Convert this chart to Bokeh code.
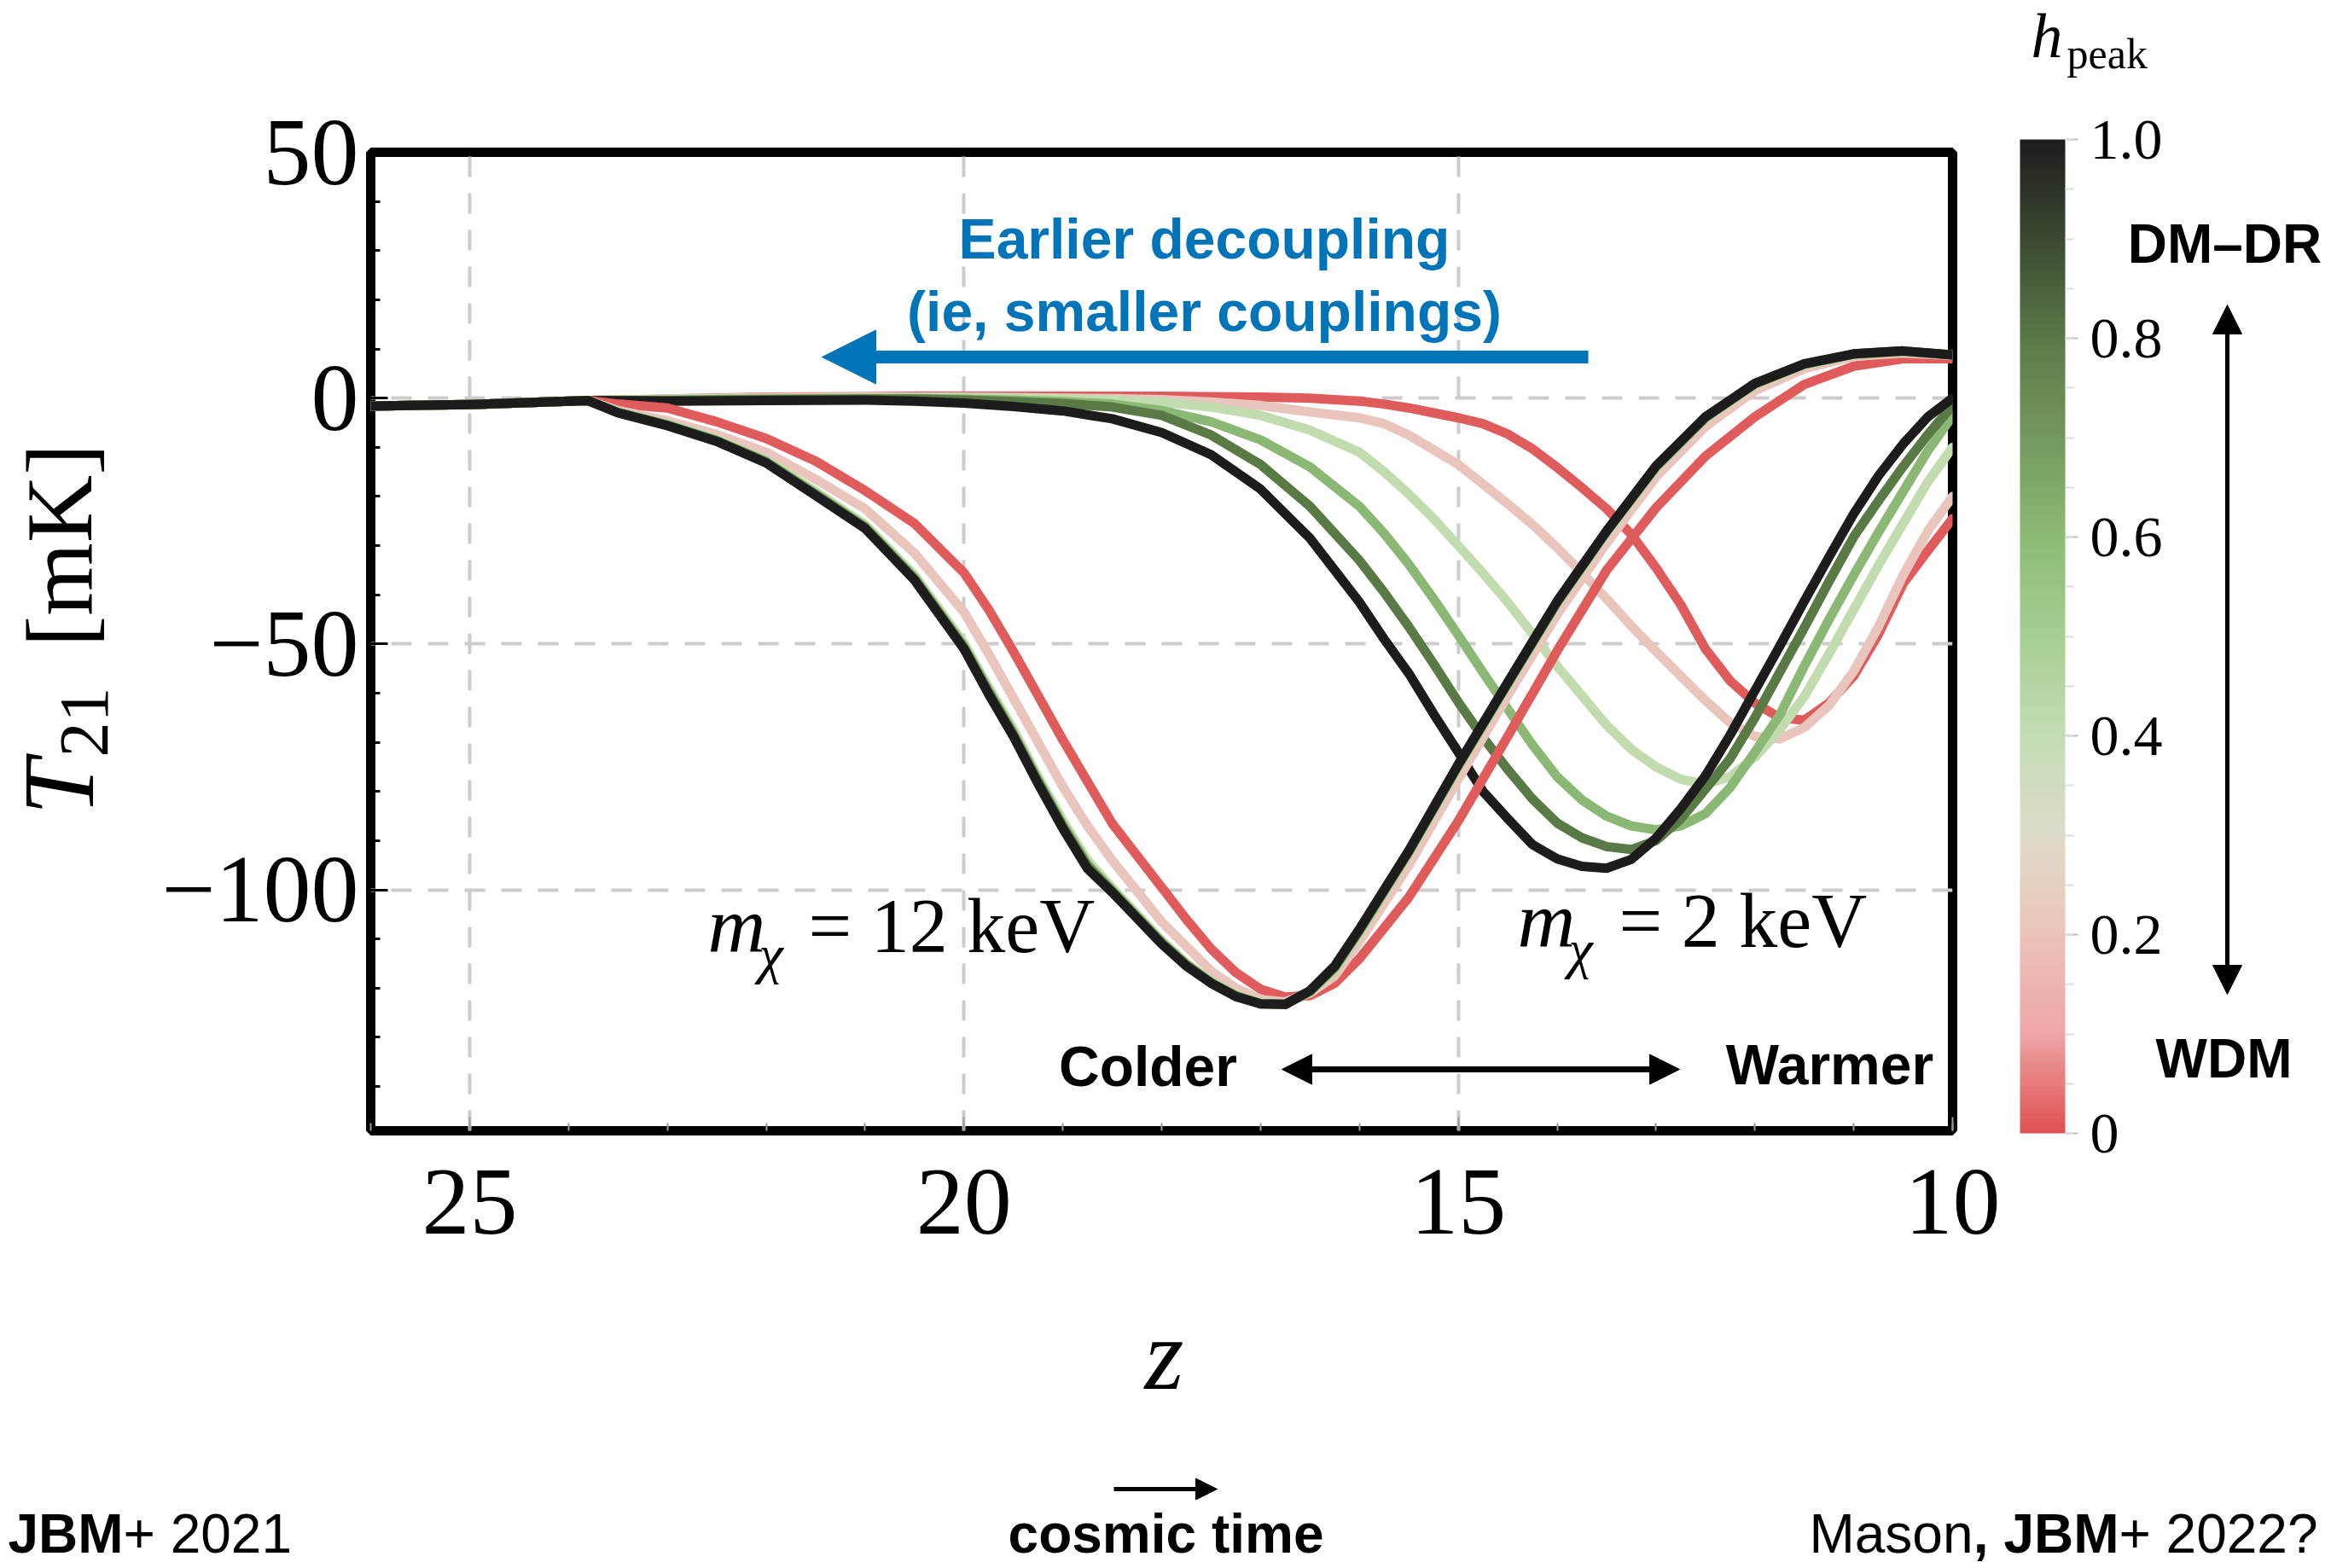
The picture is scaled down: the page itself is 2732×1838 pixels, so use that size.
import numpy as np
from bokeh.plotting import figure
from bokeh.layouts import row, column
from bokeh.models import (Range1d, FixedTicker, Label, Arrow, NormalHead, ColorBar,
                          LinearColorMapper, CustomJSTickFormatter)
from bokeh.embed import file_html
from bokeh.resources import INLINE

# ---------------- data ----------------
z_12 = [26, 25, 23.8, 23.5, 23, 22.5, 22, 21.5, 21, 20.5, 20, 19.75, 19.5, 19.25, 19, 18.75, 18.5,
        18, 17.75, 17.5, 17.25, 17, 16.75, 16.5, 16.25, 16, 15.5, 15, 14.5, 14, 13.5, 13, 12.5, 12,
        11.5, 11, 10.5, 10]
T12_h00 = [-1.6, -1.3, -0.5, -1.2, -2.0, -4.8, -8.2, -12.8, -18.8, -25.5, -35.5, -43.0, -51.5, -60.5,
           -69.5, -78.0, -86.5, -99.5, -106.0, -112.0, -116.8, -120.2, -121.8, -121.5, -119.0, -114.0,
           -101.5, -86.0, -68.8, -51.4, -35.0, -22.3, -11.8, -3.8, 2.8, 6.5, 8.0, 8.0]
T12_h02 = [-1.6, -1.3, -0.5, -2.5, -4.6, -7.4, -11.0, -16.5, -22.5, -31.5, -43.5, -52.0, -61.0, -70.0,
           -79.0, -87.0, -94.0, -106.5, -111.5, -116.5, -120.0, -122.3, -122.8, -121.0, -117.5, -110.5,
           -95.0, -77.5, -60.5, -44.0, -29.5, -16.0, -5.8, 1.5, 6.0, 8.5, 9.2, 8.7]
T12_h04 = [-1.6, -1.3, -0.5, -2.8, -5.3, -8.4, -12.6, -19.0, -25.7, -36.0, -49.8, -58.8, -67.3, -77.0,
           -85.9, -94.0, -99.6, -110.3, -114.9, -118.6, -121.4, -123.0, -123.2, -120.8, -116.2, -108.8,
           -92.6, -75.1, -58.4, -41.9, -27.5, -14.3, -4.2, 2.7, 6.8, 8.9, 9.5, 8.8]
T12_h06 = [-1.6, -1.3, -0.5, -2.9, -5.4, -8.6, -12.9, -19.4, -26.1, -36.5, -50.4, -59.4, -68.1, -77.6,
           -86.7, -94.8, -100.1, -110.6, -115.1, -118.8, -121.5, -123.1, -123.3, -120.7, -115.9, -108.4,
           -92.3, -74.8, -58.1, -41.6, -27.2, -14.0, -4.0, 2.9, 6.9, 8.9, 9.5, 8.8]
T12_h08 = [-1.6, -1.3, -0.5, -2.9, -5.5, -8.7, -13.0, -19.6, -26.3, -36.8, -50.7, -59.8, -68.4, -78.0,
           -87.1, -95.2, -100.3, -110.8, -115.3, -118.9, -121.6, -123.2, -123.3, -120.6, -115.7, -108.2,
           -92.2, -74.7, -58.0, -41.5, -27.1, -13.9, -3.9, 2.9, 6.9, 9.0, 9.6, 8.8]
T12_h10 = [-1.6, -1.3, -0.5, -3.0, -5.6, -8.8, -13.2, -19.8, -26.5, -37.0, -51.0, -60.2, -68.8, -78.4,
           -87.5, -95.7, -100.5, -111.0, -115.5, -119.0, -121.7, -123.2, -123.3, -120.5, -115.5, -108.0,
           -92.0, -74.5, -57.8, -41.3, -27.0, -13.8, -3.8, 3.0, 7.0, 9.0, 9.6, 8.8]

z_2 = [26, 25, 23.8, 23, 22, 21, 20.5, 20, 19.5, 19, 18.5, 18, 17.5, 17, 16.5, 16, 15.75, 15.5, 15.25,
       15, 14.75, 14.5, 14.25, 14, 13.75, 13.5, 13.25, 13, 12.75, 12.5, 12.25, 12, 11.75, 11.5, 11.25,
       11, 10.75, 10.5, 10.25, 10]
T2_h00 = [-1.6, -1.3, -0.5, -0.2, 0.2, 0.3, 0.4, 0.4, 0.4, 0.4, 0.4, 0.4, 0.3, 0.2, 0.0, -0.6, -1.2,
          -2.0, -3.0, -4.0, -5.2, -7.3, -10.3, -14.1, -18.2, -22.5, -27.7, -34.5, -42.0, -51.0, -57.5,
          -62.0, -65.0, -65.5, -62.0, -56.5, -48.0, -37.7, -31.0, -24.5]
T2_h02 = [-1.6, -1.3, -0.5, -0.2, 0.1, 0.2, 0.2, 0.2, 0.1, 0.0, -0.1, -0.3, -0.8, -1.5, -2.8, -4.0, -5.2,
          -7.5, -10.5, -13.5, -17.5, -21.5, -25.7, -30.4, -35.5, -40.8, -46.3, -51.5, -56.5, -61.5,
          -66.0, -68.8, -69.3, -67.0, -62.5, -55.5, -46.5, -36.0, -27.0, -20.0]
T2_h04 = [-1.6, -1.3, -0.5, -0.3, -0.1, 0.0, 0.0, 0.0, -0.1, -0.2, -0.4, -0.8, -1.8, -3.5, -6.5, -11.0,
          -15.0, -19.5, -24.5, -30.0, -35.6, -41.5, -47.9, -54.5, -60.5, -66.5, -71.4, -75.0, -77.5,
          -78.5, -77.0, -73.0, -67.5, -60.7, -52.0, -43.0, -34.0, -25.5, -17.0, -10.0]
T2_h06 = [-1.6, -1.3, -0.5, -0.4, -0.2, -0.1, -0.1, -0.2, -0.4, -0.7, -1.2, -2.5, -4.8, -8.5, -14.0,
          -22.0, -27.5, -33.8, -40.8, -48.2, -55.8, -63.2, -70.5, -77.0, -81.7, -85.0, -87.0, -87.8,
          -87.0, -84.5, -79.2, -72.0, -64.5, -54.5, -45.0, -36.0, -27.3, -19.0, -10.7, -3.6]
T2_h08 = [-1.6, -1.3, -0.5, -0.5, -0.3, -0.2, -0.2, -0.4, -0.7, -1.1, -1.8, -3.5, -7.5, -13.5, -22.0,
          -33.0, -39.5, -46.5, -54.0, -61.8, -69.0, -75.5, -81.5, -86.4, -89.4, -91.2, -91.8, -90.0,
          -85.6, -79.5, -73.3, -65.0, -55.8, -46.7, -37.3, -28.2, -20.9, -13.9, -7.4, -1.5]
T2_h10 = [-1.6, -1.3, -0.5, -0.6, -0.5, -0.4, -0.6, -1.0, -1.7, -2.6, -4.2, -7.0, -11.5, -18.5, -28.5,
          -41.5, -49.0, -56.0, -64.2, -72.0, -80.0, -85.5, -90.8, -93.7, -95.2, -95.6, -93.8, -89.5,
          -83.5, -76.8, -68.5, -59.5, -50.5, -41.3, -32.3, -23.5, -15.8, -9.3, -3.8, 0.0]

h_peak = [0.0, 0.2, 0.4, 0.6, 0.8, 1.0]
curve_colors = ["#e05c5c", "#e9c5bd", "#c2dcb0", "#8bb874", "#5a7a45", "#1c1c1c"]
curves_12 = [T12_h00, T12_h02, T12_h04, T12_h06, T12_h08, T12_h10]
curves_2 = [T2_h00, T2_h02, T2_h04, T2_h06, T2_h08, T2_h10]

x_ticks = [25, 20, 15, 10]
y_ticks = [50, 0, -50, -100]
y_tick_labels = {50: "50", 0: "0", -50: "\u221250", -100: "\u2212100"}
cbar_ticks = [0.0, 0.2, 0.4, 0.6, 0.8, 1.0]

# colorbar gradient anchors (h, colour)
cmap_anchor_h = [0.0, 0.1, 0.2, 0.3, 0.4, 0.5, 0.6, 0.7, 0.8, 0.9, 1.0]
cmap_anchor_c = ["#e05252", "#eea6a6", "#ecc4ba", "#dedcca", "#c3ddb3", "#a6cf93", "#8cbb76",
                 "#73995d", "#5b7a47", "#3b4a31", "#1d1d1d"]

# ---------------- layout (canvas pixels) ----------------
TOT_W, TOT_H = 2728, 1836
X_MAIN0, X_MAIN1 = 150, 2350          # horizontal extent of the main figure
Y_MAIN1 = 1510                        # bottom of the top row
FL, FR, FT, FB = 434, 2288, 178, 1325  # frame box
XR = (26, 10)
YR = (-149, 50)

SERIF = "Liberation Serif"
SANS = "Liberation Sans"
BLUE = "#0074b8"
MID = 0.3465   # distance (in em) from text middle to alphabetic baseline


def to_main(X, Y):
    return (XR[0] + (X - FL) / (FR - FL) * (XR[1] - XR[0]),
            YR[1] - (Y - FT) / (FB - FT) * (YR[1] - YR[0]))


def ident(X, Y):
    return X, Y


def add_label(fig, X, Y, text, size, conv=ident, font=SERIF, style="normal", align="left",
              color="black", angle=0.0):
    """X, Y: canvas position of the text baseline start/centre/end."""
    if angle == 0.0:
        Y = Y - MID * size
    else:
        X = X - MID * size
    x, y = conv(X, Y)
    fig.add_layout(Label(x=x, y=y, text=text, text_font=font, text_font_size=f"{size}px",
                         text_font_style=style, text_align=align, text_baseline="middle",
                         text_color=color, angle=angle))


def add_arrow(fig, X0, Y0, X1, Y1, width, head, conv=ident, color="black", both=False):
    kw = dict(end=NormalHead(size=head, fill_color=color, line_color=color))
    if both:
        kw["start"] = NormalHead(size=head, fill_color=color, line_color=color)
    x0, y0 = conv(X0, Y0)
    x1, y1 = conv(X1, Y1)
    fig.add_layout(Arrow(x_start=x0, y_start=y0, x_end=x1, y_end=y1, line_color=color,
                         line_width=width, **kw))


def aux_fig(x0, y0, w, h):
    f = figure(width=w, height=h, x_range=Range1d(x0, x0 + w), y_range=Range1d(y0 + h, y0),
               x_axis_type=None, y_axis_type=None, min_border=0, title=None, frame_align=False,
               output_backend="svg", toolbar_location=None)
    f.outline_line_color = None
    f.background_fill_color = "white"
    f.border_fill_color = "white"
    f.grid.visible = False
    return f


# ---------------- main figure ----------------
p = figure(width=X_MAIN1 - X_MAIN0, height=Y_MAIN1, x_range=Range1d(*XR), y_range=Range1d(*YR),
           min_border_left=FL - X_MAIN0, min_border_right=X_MAIN1 - FR,
           min_border_top=FT, min_border_bottom=Y_MAIN1 - FB, title=None, frame_align=False,
           output_backend="svg", toolbar_location=None)
p.background_fill_color = "white"
p.border_fill_color = "white"
p.outline_line_color = "black"
p.outline_line_width = 11

p.xaxis.ticker = FixedTicker(ticks=x_ticks, minor_ticks=list(range(10, 27)))
p.yaxis.ticker = FixedTicker(ticks=y_ticks, minor_ticks=list(range(-140, 50, 10)))
p.yaxis.major_label_overrides = y_tick_labels
for ax in (p.xaxis[0], p.yaxis[0]):
    ax.axis_line_color = None
    ax.major_label_text_font = SERIF
    ax.major_label_text_font_size = "112px"
    ax.major_label_text_color = "black"
    ax.major_tick_out = 0
    ax.minor_tick_out = 0
p.xaxis.major_tick_in = 16
p.xaxis.minor_tick_in = 9
p.xaxis.major_tick_line_color = "#999999"
p.xaxis.minor_tick_line_color = "#999999"
p.xaxis.major_tick_line_width = 2
p.xaxis.minor_tick_line_width = 2
p.xaxis.major_label_standoff = 46
p.yaxis.major_tick_in = 20
p.yaxis.minor_tick_in = 11
p.yaxis.major_tick_line_color = "black"
p.yaxis.minor_tick_line_color = "black"
p.yaxis.major_tick_line_width = 3
p.yaxis.minor_tick_line_width = 3
p.yaxis.major_label_standoff = 14

for g in (p.xgrid[0], p.ygrid[0]):
    g.grid_line_color = "#cccccc"
    g.grid_line_width = 4
    g.grid_line_dash = "24 19"

for curves, zs in ((curves_2, z_2), (curves_12, z_12)):
    for T, c in zip(curves, curve_colors):
        p.line(zs, T, line_color=c, line_width=11, line_join="round", line_cap="round")

# in-frame annotations
add_label(p, 829, 1116, "m", 94, conv=to_main, style="italic")
add_label(p, 889, 1140, "\u03c7", 64, conv=to_main, style="italic")
add_label(p, 947, 1116, "= 12 keV", 90, conv=to_main)
add_label(p, 1778, 1110, "m", 94, conv=to_main, style="italic")
add_label(p, 1838, 1134, "\u03c7", 64, conv=to_main, style="italic")
add_label(p, 1897, 1110, "= 2 keV", 90, conv=to_main)

add_label(p, 1411, 302, "Earlier decoupling", 66, conv=to_main, font=SANS, style="bold",
          align="center", color=BLUE)
add_label(p, 1411, 387, "(ie, smaller couplings)", 66, conv=to_main, font=SANS, style="bold",
          align="center", color=BLUE)
add_arrow(p, 1861, 418, 963, 418, 15, 63, conv=to_main, color=BLUE)

add_label(p, 1345, 1272, "Colder", 66, conv=to_main, font=SANS, style="bold", align="center")
add_label(p, 2144, 1270, "Warmer", 66, conv=to_main, font=SANS, style="bold", align="center")
add_arrow(p, 1502, 1253, 1968, 1253, 7, 35, conv=to_main, both=True)

# ---------------- y label strip ----------------
fy = aux_fig(0, 0, X_MAIN0, Y_MAIN1)
add_label(fy, 110, 955, "T", 118, style="italic", angle=np.pi / 2)
add_label(fy, 127, 887, "21", 82, angle=np.pi / 2)
add_label(fy, 108, 758, "[mK]", 110, angle=np.pi / 2)

# ---------------- colour-bar strip ----------------
fs = aux_fig(X_MAIN1, 0, TOT_W - X_MAIN1, Y_MAIN1)


def hex2rgb(h):
    return np.array([int(h[i:i + 2], 16) for i in (1, 3, 5)], dtype=float)


ss = np.linspace(0, 1, 256)
rgb = np.stack([np.interp(ss, cmap_anchor_h, [hex2rgb(c)[k] for c in cmap_anchor_c]) for k in range(3)], axis=1)
palette = ["#%02x%02x%02x" % tuple(int(round(v)) for v in r) for r in rgb]
mapper = LinearColorMapper(palette=palette, low=0, high=1)
cb = ColorBar(color_mapper=mapper, width=53, height=1165, location=(17, Y_MAIN1 - 1328),
              padding=0, margin=0,
              ticker=FixedTicker(ticks=cbar_ticks, minor_ticks=[round(0.05 * k, 2) for k in range(21)]),
              formatter=CustomJSTickFormatter(code="return tick == 0 ? '0' : tick.toFixed(1);"),
              major_label_text_font=SERIF, major_label_text_font_size="68px",
              major_label_text_color="black", label_standoff=14,
              major_tick_in=0, major_tick_out=15, minor_tick_in=0, minor_tick_out=10,
              major_tick_line_color="#bbbbbb", minor_tick_line_color="#dddddd",
              major_tick_line_width=2, minor_tick_line_width=2, bar_line_color=None)
fs.add_layout(cb, "center")

add_label(fs, 2380, 67, "h", 74, style="italic")
add_label(fs, 2422, 80, "peak", 50)
add_label(fs, 2607, 308, "DM\u2013DR", 64, font=SANS, style="bold", align="center")
add_label(fs, 2606, 1263, "WDM", 64, font=SANS, style="bold", align="center")
add_arrow(fs, 2610, 1165, 2610, 357, 5, 34, both=True)

# ---------------- bottom strip ----------------
fb = aux_fig(0, Y_MAIN1, TOT_W, TOT_H - Y_MAIN1)
add_label(fb, 1364, 1629, "z", 118, style="italic", align="center")
add_arrow(fb, 1305, 1745, 1426, 1745, 5, 25)
add_label(fb, 1366, 1820, "cosmic time", 64, font=SANS, style="bold", align="center")
add_label(fb, 9, 1820, "JBM", 64, font=SANS, style="bold")
add_label(fb, 144, 1820, "+ 2021", 64, font=SANS)
add_label(fb, 2716, 1820, "+ 2022?", 64, font=SANS, align="right")
add_label(fb, 2483, 1820, ", JBM", 64, font=SANS, style="bold", align="right")
add_label(fb, 2312, 1820, "Mason", 64, font=SANS, align="right")

layout = column(row(fy, p, fs), fb)
open("out.html", "w").write(file_html(layout, INLINE))
